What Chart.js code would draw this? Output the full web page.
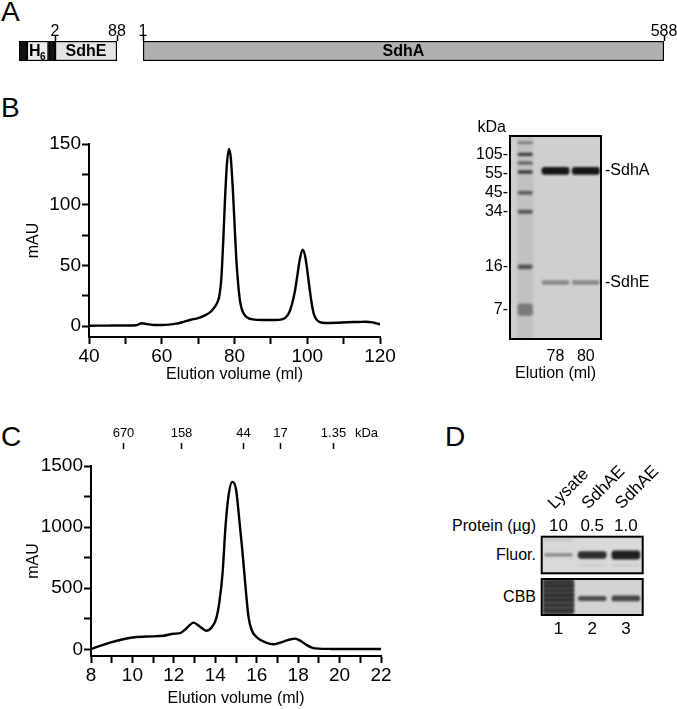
<!DOCTYPE html>
<html>
<head>
<meta charset="utf-8">
<script src="https://cdn.jsdelivr.net/npm/chart.js@4.4.1/dist/chart.umd.min.js"></script>
<style>
  html, body { margin: 0; padding: 0; background: #fff; }
  body { width: 677px; height: 709px; position: relative; overflow: hidden;
         font-family: "Liberation Sans", Arial, sans-serif; color: #000; }
  .panel { position: absolute; font-size: 28px; line-height: 28px; }
  .lbl { position: absolute; font-size: 16px; line-height: 16px; white-space: nowrap; }
  canvas { position: absolute; }
</style>
</head>
<body>
<div class="panel" style="left:1px;top:-2px">A</div>
<div class="panel" style="left:1px;top:94px">B</div>
<div class="panel" style="left:1px;top:423px">C</div>
<div class="panel" style="left:445px;top:423px">D</div>

<canvas id="sdhE" width="135" height="52" style="left:0;top:12px"></canvas>
<canvas id="sdhA" width="547" height="52" style="left:130px;top:12px"></canvas>
<canvas id="secB" width="400" height="265" style="left:0;top:125px"></canvas>
<canvas id="gelB" width="237" height="275" style="left:440px;top:110px"></canvas>
<canvas id="secC" width="400" height="294" style="left:0;top:415px"></canvas>
<canvas id="fluor" width="140" height="135" style="left:537px;top:440px"></canvas>
<canvas id="cbb" width="140" height="64" style="left:537px;top:575px"></canvas>

<div class="lbl" style="right:141px;top:518px">Protein (µg)</div>
<div class="lbl" style="right:141px;top:547px">Fluor.</div>
<div class="lbl" style="right:141px;top:589px">CBB</div>

<script>
// ---- panel A: domain maps (residue numbers) ----
const sdhEBounds = [-48, -37, -7, 2, 88];
const sdhENames = ['', 'H6', '', 'SdhE'];
const sdhETicks = [2, 88];
const sdhABounds = [1, 588];
const sdhANames = ['SdhA'];
const sdhATicks = [1, 588];

// ---- panel B: gel filtration trace ----
const secBVolume = [40, 45, 50, 53, 54.5, 56, 58, 60, 62, 64, 66, 68, 70, 72, 73.5, 74.5, 75.3, 75.9, 76.4, 76.9,
  77.4, 77.9, 78.5, 79, 79.5, 80, 80.5, 81, 81.5, 82, 82.5, 83.5, 85, 88, 91, 93, 94, 95, 95.8, 96.5,
  97.2, 97.9, 98.7, 99.4, 100, 100.6, 101.2, 101.8, 102.5, 103.5, 105, 108, 111, 114, 116, 118, 119, 120];
const secBmAU = [0.3, 0.4, 0.5, 0.7, 2.3, 1.6, 0.9, 0.9, 1.2, 2, 3.5, 5.2, 6.5, 9, 12, 15.5, 19.5, 26, 40, 70,
  105, 133, 146, 138, 115, 85, 55, 35, 21, 14, 10.5, 7, 5.5, 5, 5, 5.5, 7, 11, 18, 27,
  40, 54, 63, 58, 46, 32, 19, 10, 5.5, 3.2, 2.5, 2.7, 3.2, 3.4, 3.6, 3, 2.2, 1.5];
const secBXTicks = [40, 50, 60, 70, 80, 90, 100, 110, 120];
const secBXLabels = [40, 60, 80, 100, 120];
const secBYTicks = [0, 25, 50, 75, 100, 125, 150];
const secBYLabels = [0, 50, 100, 150];

// ---- panel B: SDS gel (migration, 0 = top of gel) ----
const gelLanes = ['', '78', '80'];
const markerKda = ['105', '55', '45', '34', '16', '7'];
const markerPos = [9.0, 18.4, 27.9, 37.2, 64.4, 85.7];
const ladderTop = [2.7, 8.2, 12.5, 16.9, 27.0, 36.3, 63.3, 82.5];
const ladderBottom = [3.9, 9.8, 14.0, 18.6, 29.0, 38.3, 65.6, 88.5];
const sdhABand = [15.3, 19.1];
const sdhEBand = [71.0, 73.3];

// ---- panel C: analytical gel filtration ----
const secCVolume = [8, 8.4, 9, 9.5, 10, 10.7, 11.5, 12, 12.3, 12.6, 12.95, 13.25, 13.55, 13.85, 14.05, 14.2, 14.35,
  14.5, 14.65, 14.82, 15, 15.16, 15.3, 15.45, 15.6, 15.75, 16.05, 16.45, 16.8, 17.1, 17.5, 17.85, 18.1,
  18.4, 18.7, 19, 19.5, 20, 21, 22];
const secCmAU = [0, 25, 58, 80, 96, 104, 111, 127, 132, 170, 218, 187, 152, 185, 255, 390, 620,
  1020, 1270, 1370, 1310, 1060, 820, 530, 270, 160, 92, 55, 41, 53, 75, 87, 71,
  36, 12, 5, 3, 2, 2, 2];
const secCXTicks = [8, 9, 10, 11, 12, 13, 14, 15, 16, 17, 18, 19, 20, 21, 22];
const secCXLabels = [8, 10, 12, 14, 16, 18, 20, 22];
const secCYTicks = [0, 250, 500, 750, 1000, 1250, 1500];
const secCYLabels = [0, 500, 1000, 1500];
const mwLabels = ['670', '158', '44', '17', '1.35'];
const mwVolume = [9.56, 12.34, 15.35, 17.12, 19.7];

// ---- panel D: fluorescence / CBB gels (migration 0..10) ----
const lanesD = ['1', '2', '3'];
const proteinAmounts = ['10', '0.5', '1.0'];
const sampleNames = ['Lysate', 'SdhAE', 'SdhAE'];
const fluorMainTop = [4.5, 4.0, 3.8];
const fluorMainBottom = [5.4, 6.0, 6.2];
const fluorFaintTop = [0.5, 7.6, 7.6];
const fluorFaintBottom = [1.1, 8.0, 8.0];
const cbbBandTop = [null, 4.7, 4.6];
const cbbBandBottom = [null, 6.1, 6.2];
const lysateBandTop = [0.6, 1.7, 2.9, 4.2, 5.5, 7.0, 8.4];
const lysateBandBottom = [1.2, 2.2, 3.4, 4.8, 6.1, 7.5, 9.0];

Chart.defaults.font.family = '"Liberation Sans", Arial, sans-serif';
Chart.defaults.color = '#000';

const tickFont = { size: 16 };
const axisTickFont = { size: 19 };
const titleFont = { size: 16 };
const floating = (tops, bottoms) => tops.map((t, i) => (t == null ? null : [t, bottoms[i]]));

/////////////////////////////  panel A  /////////////////////////////

const domainLabels = {
  id: 'domainLabels',
  afterDatasetsDraw(chart, args, opts) {
    const ctx = chart.ctx;
    ctx.save();
    ctx.fillStyle = '#000';
    ctx.textBaseline = 'middle';
    ctx.textAlign = 'center';
    chart.data.datasets.forEach((ds, i) => {
      const name = opts.names[i];
      if (!name) return;
      const el = chart.getDatasetMeta(i).data[0];
      const cx = (el.x + el.base) / 2;
      const cy = el.y + 1;
      ctx.font = 'bold 16px "Liberation Sans", Arial';
      if (name === 'H6') {
        ctx.fillText('H', cx - 3, cy);
        ctx.font = 'bold 10px "Liberation Sans", Arial';
        ctx.fillText('6', cx + 5, cy + 5);
      } else {
        ctx.fillText(name, cx, cy);
      }
    });
    ctx.restore();
  }
};

function domainMap(id, bounds, names, ticks, fills, padding) {
  const datasets = [];
  for (let i = 0; i < bounds.length - 1; i++) {
    datasets.push({
      data: [[bounds[i], bounds[i + 1]]],
      backgroundColor: fills[i],
      borderColor: '#000',
      borderWidth: 1.5,
      borderSkipped: false,
      grouped: false,
      barPercentage: 1,
      categoryPercentage: 1
    });
  }
  return new Chart(document.getElementById(id), {
    type: 'bar',
    data: { labels: [''], datasets },
    options: {
      indexAxis: 'y',
      responsive: false, animation: false, devicePixelRatio: 1,
      layout: { autoPadding: false, padding },
      plugins: { legend: { display: false }, tooltip: { enabled: false }, domainLabels: { names } },
      scales: {
        x: {
          type: 'linear', position: 'top',
          min: bounds[0], max: bounds[bounds.length - 1],
          afterBuildTicks: s => { s.ticks = ticks.map(v => ({ value: v })); },
          afterFit: s => { s.height = 29; },
          ticks: { font: tickFont, padding: -6, maxRotation: 0, autoSkip: false, callback: v => String(v) },
          grid: { drawOnChartArea: false, tickLength: 6, tickWidth: 1.5, tickColor: '#000' },
          border: { display: false }
        },
        y: { display: false }
      }
    },
    plugins: [domainLabels]
  });
}

domainMap('sdhE', sdhEBounds, sdhENames, sdhETicks, ['#111', '#ececec', '#111', '#e4e4e4'],
  { left: 19, right: 18, top: 0, bottom: 3 });
domainMap('sdhA', sdhABounds, sdhANames, sdhATicks, ['#b0b0b0'],
  { left: 13, right: 13, top: 0, bottom: 3 });

/////////////////////////////  chromatograms  /////////////////////////////

function chromatogram(id, xs, ys, cfg) {
  return new Chart(document.getElementById(id), {
    type: 'line',
    data: {
      datasets: [{
        data: xs.map((x, i) => ({ x, y: ys[i] })),
        borderColor: '#000',
        borderWidth: 2.4,
        pointRadius: 0,
        cubicInterpolationMode: 'monotone',
        fill: false
      }]
    },
    options: {
      responsive: false, animation: false, devicePixelRatio: 1,
      layout: { autoPadding: false, padding: cfg.padding },
      plugins: { legend: { display: false }, tooltip: { enabled: false } },
      scales: {
        x: {
          type: 'linear', min: cfg.xMin, max: cfg.xMax,
          afterBuildTicks: s => { s.ticks = cfg.xTicks.map(v => ({ value: v })); },
          afterFit: s => { s.height = cfg.xHeight; },
          ticks: { font: axisTickFont, padding: 1, maxRotation: 0, autoSkip: false,
                   callback: v => (cfg.xLabels.includes(v) ? String(v) : '') },
          grid: { drawOnChartArea: false, tickLength: 7, tickWidth: 2, tickColor: '#000' },
          border: { color: '#000', width: 2 },
          title: { display: true, text: 'Elution volume (ml)', font: titleFont,
                   padding: { top: 0, bottom: cfg.xTitlePad } }
        },
        y: {
          type: 'linear', min: cfg.yMin, max: cfg.yMax,
          afterBuildTicks: s => { s.ticks = cfg.yTicks.map(v => ({ value: v })); },
          afterFit: s => { s.width = cfg.yWidth; },
          ticks: { font: axisTickFont, padding: 1, autoSkip: false,
                   callback: v => (cfg.yLabels.includes(v) ? String(v) : '') },
          grid: { drawOnChartArea: false, tickLength: 7, tickWidth: 2, tickColor: '#000' },
          border: { color: '#000', width: 2 },
          title: { display: true, text: 'mAU', font: titleFont, padding: { top: 24, bottom: 0 } }
        }
      }
    },
    plugins: cfg.plugins || []
  });
}

chromatogram('secB', secBVolume, secBmAU, {
  xMin: 40, xMax: 120, xTicks: secBXTicks, xLabels: secBXLabels,
  yMin: -9, yMax: 150, yTicks: secBYTicks, yLabels: secBYLabels,
  yWidth: 89, xHeight: 53, xTitlePad: 6,
  padding: { left: 0, right: 20, top: 19, bottom: 0 }
});

const mwMarkers = {
  id: 'mwMarkers',
  afterDraw(chart) {
    const { ctx, chartArea, scales: { x } } = chart;
    ctx.save();
    ctx.strokeStyle = '#000';
    ctx.fillStyle = '#000';
    ctx.lineWidth = 1.5;
    ctx.font = '13px "Liberation Sans", Arial';
    ctx.textAlign = 'center';
    ctx.textBaseline = 'middle';
    mwVolume.forEach((v, i) => {
      const px = Math.round(x.getPixelForValue(v)) + 0.5;
      ctx.beginPath();
      ctx.moveTo(px, chartArea.top - 23);
      ctx.lineTo(px, chartArea.top - 17);
      ctx.stroke();
      ctx.fillText(mwLabels[i], px, chartArea.top - 33);
    });
    ctx.fillText('kDa', x.getPixelForValue(21.3), chartArea.top - 33);
    ctx.restore();
  }
};

chromatogram('secC', secCVolume, secCmAU, {
  xMin: 8, xMax: 22, xTicks: secCXTicks, xLabels: secCXLabels,
  yMin: -55, yMax: 1500, yTicks: secCYTicks, yLabels: secCYLabels,
  yWidth: 91, xHeight: 53, xTitlePad: 1,
  padding: { left: 0, right: 19, top: 51, bottom: 0 },
  plugins: [mwMarkers]
});

/////////////////////////////  gels  /////////////////////////////

const gelFrame = {
  id: 'gelFrame',
  beforeDatasetsDraw(chart, args, opts) {
    const { ctx, chartArea: a } = chart;
    ctx.save();
    ctx.fillStyle = opts.bg;
    ctx.fillRect(a.left, a.top, a.width, a.height);
    ctx.filter = 'blur(' + opts.blur + 'px)';
  },
  afterDatasetsDraw(chart, args, opts) {
    const { ctx, chartArea: a } = chart;
    ctx.restore();
    ctx.save();
    ctx.lineWidth = opts.border;
    ctx.strokeStyle = '#000';
    ctx.strokeRect(a.left, a.top, a.width, a.height);
    ctx.restore();
  }
};

// chart.js paints dataset 0 last (on top), so lane smears go at the end
const bandSet = (data, color, pct) => ({
  data, backgroundColor: color, borderWidth: 0, borderRadius: 3, borderSkipped: false,
  grouped: false, barPercentage: pct, categoryPercentage: 1
});

const gelBLabels = {
  id: 'gelBLabels',
  afterDraw(chart) {
    const { ctx, chartArea: a, scales: { y } } = chart;
    ctx.save();
    ctx.fillStyle = '#000';
    ctx.font = '16px "Liberation Sans", Arial';
    ctx.textBaseline = 'middle';
    ctx.textAlign = 'left';
    ctx.fillText('-SdhA', a.right + 4, y.getPixelForValue((sdhABand[0] + sdhABand[1]) / 2));
    ctx.fillText('-SdhE', a.right + 4, y.getPixelForValue((sdhEBand[0] + sdhEBand[1]) / 2));
    ctx.textAlign = 'right';
    ctx.fillText('kDa', a.left - 4, a.top - 8);
    ctx.restore();
  }
};

const ladderShades = ['#767676', '#3c3c3c', '#5a5a5a', '#3a3a3a', '#606060', '#555', '#555', '#7a7a7a'];
const gelBSets = [];
ladderTop.forEach((t, i) => gelBSets.push(bandSet([[t, ladderBottom[i]], null, null], ladderShades[i], 0.5)));
gelBSets.push(bandSet([null, sdhABand, sdhABand], '#151515', 0.92));
gelBSets.push(bandSet([null, sdhEBand, sdhEBand], '#888', 0.92));
gelBSets.push(bandSet([[0, 100], null, null], '#c2c2c2', 0.55));

new Chart(document.getElementById('gelB'), {
  type: 'bar',
  data: { labels: gelLanes, datasets: gelBSets },
  options: {
    responsive: false, animation: false, devicePixelRatio: 1,
    layout: { autoPadding: false, padding: { left: 0, right: 76, top: 26, bottom: 0 } },
    plugins: { legend: { display: false }, tooltip: { enabled: false }, gelFrame: { bg: '#cfcfcf', blur: 0.8, border: 2 } },
    scales: {
      x: {
        grid: { display: false, drawTicks: false }, border: { display: false },
        afterFit: s => { s.height = 46; },
        ticks: { font: tickFont, padding: 8, maxRotation: 0 },
        title: { display: true, text: 'Elution (ml)', font: titleFont, padding: { top: 0, bottom: 2 } }
      },
      y: {
        min: 0, max: 100, reverse: true,
        afterBuildTicks: s => { s.ticks = markerPos.map(v => ({ value: v })); },
        afterFit: s => { s.width = 70; },
        ticks: { font: tickFont, padding: 2, autoSkip: false, callback: (v, i) => markerKda[i] + '-' },
        grid: { display: false, drawTicks: false }, border: { display: false }
      }
    }
  },
  plugins: [gelFrame, gelBLabels]
});

// panel D
const sampleLabels = {
  id: 'sampleLabels',
  afterDraw(chart) {
    const { ctx, chartArea: a, scales: { x } } = chart;
    ctx.save();
    ctx.fillStyle = '#000';
    ctx.font = '17px "Liberation Sans", Arial';
    ctx.textAlign = 'left';
    ctx.textBaseline = 'alphabetic';
    sampleNames.forEach((name, i) => {
      ctx.save();
      ctx.translate(x.getPixelForValue(i) - 4, a.top - 27);
      ctx.rotate(-Math.PI / 4);
      ctx.fillText(name, 0, 0);
      ctx.restore();
    });
    ctx.restore();
  }
};

new Chart(document.getElementById('fluor'), {
  type: 'bar',
  data: {
    labels: lanesD,
    datasets: [
      bandSet(floating(fluorFaintTop, fluorFaintBottom), ['#c0c0c0', '#c6c6c6', '#c2c2c2'], 0.85),
      bandSet(floating(fluorMainTop, fluorMainBottom), ['#858585', '#2c2c2c', '#202020'], 0.85)
    ]
  },
  options: {
    responsive: false, animation: false, devicePixelRatio: 1,
    layout: { autoPadding: false, padding: { left: 4.7, right: 34.3, top: 74.7, bottom: 1.7 } },
    plugins: { legend: { display: false }, tooltip: { enabled: false }, gelFrame: { bg: '#d9d9d9', blur: 1, border: 2 } },
    scales: {
      x: {
        position: 'top',
        grid: { display: false, drawTicks: false }, border: { display: false },
        afterFit: s => { s.height = 22; },
        ticks: { font: { size: 17 }, padding: 0, maxRotation: 0, callback: (v, i) => proteinAmounts[i] }
      },
      y: { display: false, min: 0, max: 10, reverse: true }
    }
  },
  plugins: [gelFrame, sampleLabels]
});

const cbbSets = [];
cbbSets.push(bandSet(floating(cbbBandTop, cbbBandBottom), ['#000', '#4c4c4c', '#444'], 0.85));
lysateBandTop.forEach((t, i) => cbbSets.push(bandSet([[t, lysateBandBottom[i]], null, null], '#262626', 0.9)));
cbbSets.push(bandSet([[0, 10], null, null], '#4a4a4a', 0.93));

new Chart(document.getElementById('cbb'), {
  type: 'bar',
  data: { labels: lanesD, datasets: cbbSets },
  options: {
    responsive: false, animation: false, devicePixelRatio: 1,
    layout: { autoPadding: false, padding: { left: 4.7, right: 34.3, top: 4, bottom: 0 } },
    plugins: { legend: { display: false }, tooltip: { enabled: false }, gelFrame: { bg: '#d3d3d3', blur: 0.8, border: 2 } },
    scales: {
      x: {
        grid: { display: false, drawTicks: false }, border: { display: false },
        afterFit: s => { s.height = 24; },
        ticks: { font: { size: 17 }, padding: 4, maxRotation: 0 }
      },
      y: { display: false, min: 0, max: 10, reverse: true }
    }
  },
  plugins: [gelFrame]
});
</script>
</body>
</html>
